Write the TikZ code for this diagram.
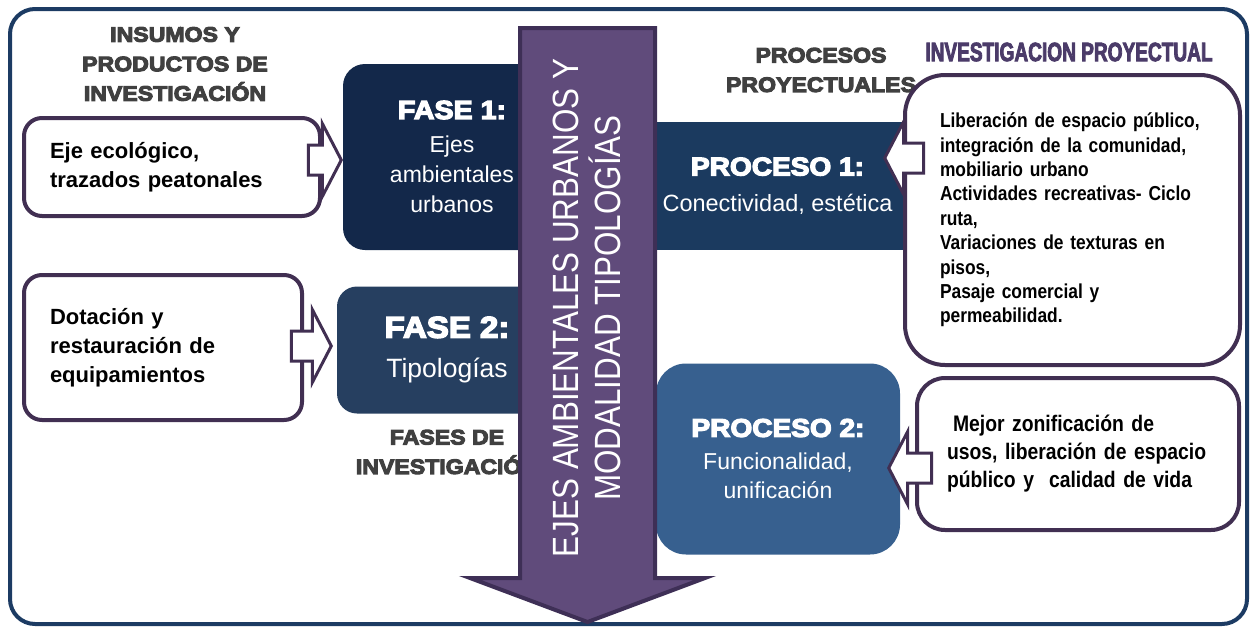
\documentclass[tikz,border=0pt]{standalone}
\usepackage{fontspec}
\setmainfont{Liberation Sans}
\newfontfamily\heavyfont{Liberation Sans Bold}[FakeBold=5,FakeStretch=1.1]
\newfontfamily\narrowfont{Liberation Sans}[FakeStretch=0.86]
\newfontfamily\impactfont{Liberation Sans Bold}[FakeBold=3,FakeStretch=0.72]
\usetikzlibrary{shapes.arrows}

\definecolor{marco}{HTML}{1C3B63}
\definecolor{fasea}{HTML}{13284A}
\definecolor{faseb}{HTML}{263F60}
\definecolor{procesoa}{HTML}{1B3A5F}
\definecolor{procesob}{HTML}{37608F}
\definecolor{borde}{HTML}{412F52}
\definecolor{flechafill}{HTML}{604B7B}
\definecolor{flechaline}{HTML}{3E2F56}
\definecolor{titulo}{HTML}{404040}
\definecolor{morado}{HTML}{4B3B69}

\begin{document}
\begin{tikzpicture}[x=1pt,y=-1pt,
	fase/.style={rectangle, rounded corners=22pt, text=white, align=center, inner sep=0pt},
	insumo/.style={rectangle, rounded corners=18pt, draw=borde, line width=4pt, fill=white, align=left, inner xsep=26pt, inner ysep=0pt, font=\bfseries\fontsize{22}{29}\selectfont},
	titulo/.style={text=titulo, align=center, font=\heavyfont\fontsize{21}{29.5}\selectfont},
	flecha/.style={single arrow, draw=borde, line width=3pt, fill=white, inner xsep=0pt, inner ysep=13.5pt, single arrow head extend=21.5pt, single arrow tip angle=125, anchor=tip},
	flechagrande/.style={draw=flechaline, line width=4pt, fill=flechafill, line join=miter}]
	\useasboundingbox (0,0) rectangle (1258,627);
	\draw[marco, line width=4pt, rounded corners=25pt] (10,9) rectangle (1247,624);

	% titulos
	\node[titulo] (insumos) at (175,64) {INSUMOS Y\\PRODUCTOS DE\\INVESTIGACIÓN};
	\node[titulo] (procesos) at (821,70) {PROCESOS\\PROYECTUALES};
	\node[titulo] (fases) at (447,452) {FASES DE\\INVESTIGACIÓN};
	\node[text=morado, font=\impactfont\fontsize{26.5}{30}\selectfont] (proyectual) at (1069,52) {INVESTIGACION PROYECTUAL};

	% fases y procesos
	\node[fase, fill=fasea, minimum width=218pt, minimum height=186pt, font=\fontsize{23}{30}\selectfont] (fase1) at (452,157)
		{{\heavyfont\fontsize{26}{30}\selectfont FASE 1:}\\[4pt]Ejes\\ambientales\\urbanos};
	\node[fase, fill=faseb, rounded corners=20pt, minimum width=220pt, minimum height=127pt, font=\fontsize{26.5}{37}\selectfont] (fase2) at (447,350)
		{{\heavyfont\fontsize{30}{34}\selectfont FASE 2:}\\[3pt]Tipologías};
	\node[fase, fill=procesoa, sharp corners, minimum width=255pt, minimum height=128pt, font=\fontsize{23.5}{31}\selectfont] (proceso1) at (777.5,186)
		{{\heavyfont\fontsize{25.5}{30}\selectfont PROCESO 1:}\\[5pt]Conectividad, estética};
	\node[fase, fill=procesob, rounded corners=30pt, minimum width=244pt, minimum height=191pt, font=\fontsize{23}{29}\selectfont] (proceso2) at (778,459)
		{{\heavyfont\fontsize{25.5}{29}\selectfont PROCESO 2:}\\[4pt]Funcionalidad,\\unificación};

	% insumos y productos
	\node[insumo, text width=244pt, minimum height=98pt] (eje) at (172,167) {Eje ecológico,\\trazados peatonales};
	\node[insumo, text width=226pt, minimum height=145pt] (dotacion) at (163,347.5) {Dotación y\\restauración de\\equipamientos};
	\node[insumo, rounded corners=40pt, inner xsep=35pt, text width=265pt, minimum height=290pt,
		font=\narrowfont\bfseries\fontsize{20.2}{24.4}\selectfont] (liberacion) at (1072.5,220)
		{Liberación de espacio público,\\integración de la comunidad,\\mobiliario urbano\\Actividades recreativas- Ciclo\\ruta,\\Variaciones de texturas en\\pisos,\\Pasaje comercial y\\permeabilidad.};
	\node[insumo, rounded corners=28pt, inner xsep=30pt, text width=262pt, minimum height=152pt,
		font=\narrowfont\bfseries\fontsize{22.5}{28}\selectfont] (zonificacion) at (1078,454)
		{\hspace*{6pt}Mejor zonificación de\\usos, liberación de espacio\\público y~ calidad de vida};

	% flechas
	\node[flecha, minimum height=33pt] (eje-fase1) at (343,160) {};
	\node[flecha, minimum height=40pt] (dotacion-fase2) at (333,346) {};
	\node[flecha, shape border rotate=180, minimum height=39pt] (liberacion-proceso1) at (883,158) {};
	\node[flecha, shape border rotate=180, minimum height=43pt] (zonificacion-proceso2) at (887,468) {};

	\draw[flechagrande] (520,28) -- (655,28) -- (655,578) -- (705,578) -- (587.5,622) -- (470,578) -- (520,578) -- cycle;
	\node[rotate=90, text=white, align=center, font=\narrowfont\fontsize{36.5}{42}\selectfont] (ejes) at (587,308)
		{EJES AMBIENTALES URBANOS Y\\MODALIDAD TIPOLOGÍAS};
\end{tikzpicture}
\end{document}
